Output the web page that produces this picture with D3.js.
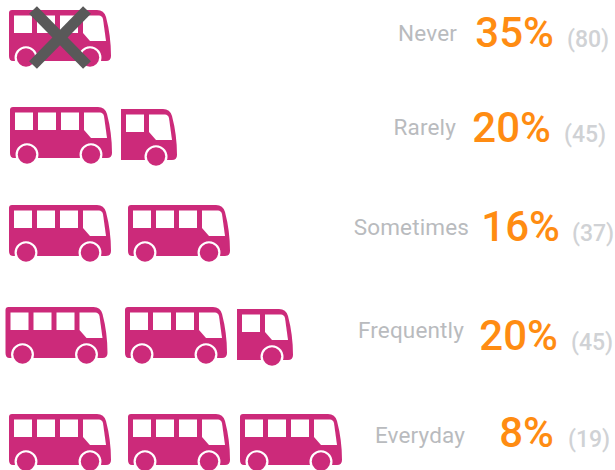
<!DOCTYPE html>
<html>
<head>
<meta charset="utf-8">
<script src="https://cdn.jsdelivr.net/npm/d3@7"></script>
<style>
    html, body { margin: 0; padding: 0; background: #fff; }
    svg { display: block; }
    text { font-family: Roboto, sans-serif; }
</style>
</head>
<body>
<div id="chart"></div>
<script>
const categories = ['Never', 'Rarely', 'Sometimes', 'Frequently', 'Everyday'];
const percents = [35, 20, 16, 20, 8];
const counts = [80, 45, 37, 45, 19];
const busCounts = [1, 1.5, 2, 2.5, 3];

const svgWidth = 615;
const svgHeight = 470;
const pink = '#cc2a7a';
const orange = '#ff8c12';

// the icons were placed by hand in the original, so each row has its own offsets
const rowLeft = [9, 10, 9, 5.5, 9];
const rowTopNudge = [0, -3, -5, -3, 4];
const busGaps = [[0], [0, 110], [0, 119], [0, 119.5, 230.5], [0, 119, 231]];
const labelRight = [457, 456, 469, 464, 465];
const percentRight = [554, 551, 560, 558, 554];
const countLeft = [567, 564, 572, 571, 568];
const labelNudge = [31, 25, 25, 28, 33];
const valueNudge = [37, 32, 31, 40, 37];

const svg = d3.select('#chart')
    .append('svg')
    .attr('width', svgWidth)
    .attr('height', svgHeight);

const y = d3.scalePoint().domain(categories).range([10, 410]);

const defs = svg.append('defs');

// bus drawn 102 wide, origin at top left of the body
const body = 'M3,0H88Q95,0 97,7Q102,26 102,46Q102,51 97,51H92A11.5,11.5 0 1 0 70,51H28A11.5,11.5 0 1 0 6,51H4Q0,51 0,46V3Q0,0 3,0Z';
const front = 'M74,5.5H90Q93,5.5 94,9L97,31H81L74,23Z';

const bus = defs.append('g').attr('id', 'bus');
bus.append('path').attr('d', body).attr('fill', pink);
[[5, 18], [28, 18], [51, 18]].forEach(w => {
    bus.append('rect')
        .attr('x', w[0]).attr('y', 5.5)
        .attr('width', w[1]).attr('height', 17.5)
        .attr('fill', '#fff');
});
bus.append('path').attr('d', front).attr('fill', '#fff');
[17, 81].forEach(cx => {
    bus.append('circle').attr('cx', cx).attr('cy', 47.5).attr('r', 9.2).attr('fill', pink);
});

defs.append('clipPath').attr('id', 'half-bus')
    .append('rect').attr('x', 46).attr('y', -2).attr('width', 60).attr('height', 64);

const rows = svg.selectAll('.row')
    .data(categories)
    .enter()
    .append('g')
    .attr('class', 'row')
    .attr('transform', (d, i) => `translate(${rowLeft[i]}, ${y(d) + rowTopNudge[i]})`);

rows.each(function (d, i) {
    const row = d3.select(this);
    const whole = Math.floor(busCounts[i]);
    const hasPart = busCounts[i] > whole;
    busGaps[i].forEach((gap, k) => {
        if (k < whole) {
            row.append('use').attr('href', '#bus').attr('x', gap);
        } else if (hasPart) {
            // partial bus keeps only the front, shifted back so the gap stays small
            row.append('g')
                .attr('transform', `translate(${gap - 45}, 2)`)
                .append('use').attr('href', '#bus')
                .attr('clip-path', 'url(#half-bus)');
        }
    });
});

// the crossed out bus in the first row
const cross = svg.append('g')
    .attr('stroke', '#595959')
    .attr('stroke-width', 11);
[[33, 10, 87, 65], [87, 10, 33, 65]].forEach(c => {
    cross.append('line')
        .attr('x1', c[0]).attr('y1', c[1])
        .attr('x2', c[2]).attr('y2', c[3]);
});

svg.selectAll('.label')
    .data(categories)
    .enter()
    .append('text')
    .attr('class', 'label')
    .attr('x', (d, i) => labelRight[i])
    .attr('y', (d, i) => y(d) + labelNudge[i])
    .attr('text-anchor', 'end')
    .attr('font-size', 22.5)
    .attr('letter-spacing', 0.15)
    .attr('fill', '#b9bbbe')
    .text(d => d);

svg.selectAll('.percent')
    .data(categories)
    .enter()
    .append('text')
    .attr('class', 'percent')
    .attr('x', (d, i) => percentRight[i])
    .attr('y', (d, i) => y(d) + valueNudge[i])
    .attr('text-anchor', 'end')
    .attr('font-size', 42)
    .attr('font-weight', 500)
    .attr('fill', orange)
    .text((d, i) => percents[i] + '%');

svg.selectAll('.count')
    .data(categories)
    .enter()
    .append('text')
    .attr('class', 'count')
    .attr('x', (d, i) => countLeft[i])
    .attr('y', (d, i) => y(d) + valueNudge[i])
    .attr('font-size', 23)
    .attr('font-weight', 500)
    .attr('fill', '#d0d2d5')
    .text((d, i) => `(${counts[i]})`);
</script>
</body>
</html>
